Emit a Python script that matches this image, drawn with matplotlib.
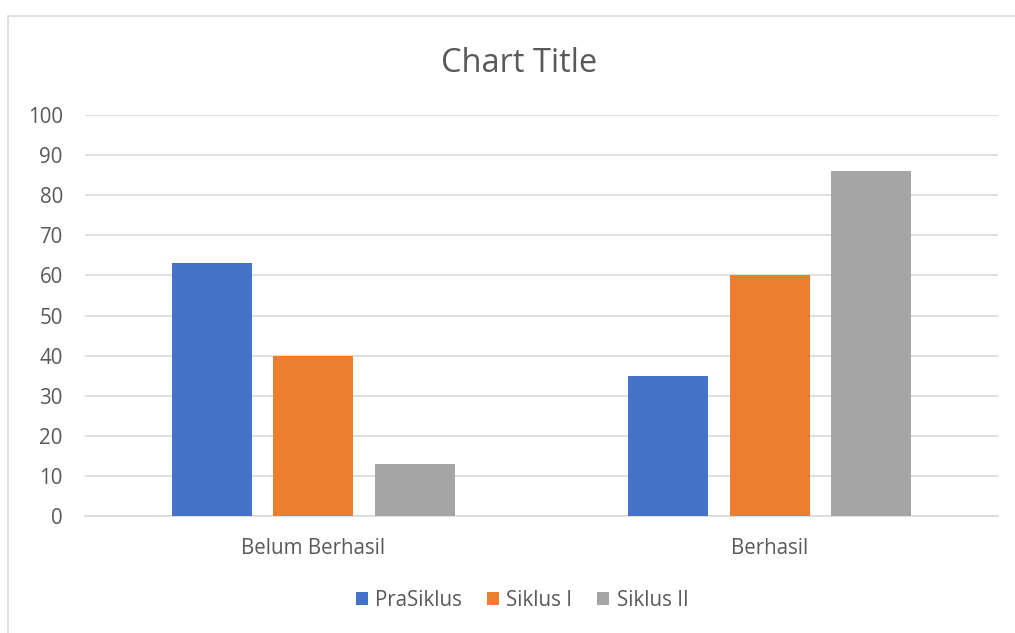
import numpy as np
import matplotlib.pyplot as plt
from matplotlib.patches import Rectangle

categories = ["Belum Berhasil", "Berhasil"]
series = ["PraSiklus", "Siklus I", "Siklus II"]
values = {
    "PraSiklus": [63, 35],
    "Siklus I": [40, 60],
    "Siklus II": [13, 86],
}
colors = ["#4472C4", "#ED7D31", "#A5A5A5"]
yticks = list(range(0, 101, 10))

plt.rcParams['font.family'] = ['Open Sans', 'DejaVu Sans']
text_c = "#595959"

fig = plt.figure(figsize=(10.15, 6.33), dpi=100)
ax = fig.add_axes([85/1015, 1-516/633, 913/1015, 401/633])

x = np.arange(len(categories))
w = 0.175
step = 0.222
for i, s in enumerate(series):
    ax.bar(x + (i-1)*step, values[s], width=w, color=colors[i], label=s, zorder=3)

ax.set_xlim(-0.5, 1.5)
ax.set_ylim(0, 100)
ax.set_yticks(yticks)
ax.set_xticks(x)
ax.set_xticklabels(categories)
ax.grid(axis="y", color="#D9D9D9", linewidth=1.2, zorder=0)
for sp in ["top", "right", "left"]:
    ax.spines[sp].set_visible(False)
ax.spines["bottom"].set_color("#D9D9D9")
ax.spines["bottom"].set_linewidth(1.2)
ax.tick_params(axis="both", length=0, labelsize=14.8, colors=text_c)
ax.tick_params(axis="y", pad=16)
ax.tick_params(axis="x", pad=16)

fig.text(519/1015, 1-63/633, "Chart Title", ha="center", va="center", fontsize=23.5, color=text_c)

fig.legend(loc="center", bbox_to_anchor=(522/1015, 1-600/633), ncol=3, frameon=False,
           fontsize=14.8, labelcolor=text_c, handlelength=0.6, handleheight=0.6,
           handletextpad=0.35, columnspacing=1.2)

fig.patches.append(Rectangle((8/1015, -0.1), 1.2, 1-16/633+0.1, transform=fig.transFigure,
                             fill=False, edgecolor="#D9D9D9", linewidth=1.2))

fig.savefig("out.png", dpi=100)
